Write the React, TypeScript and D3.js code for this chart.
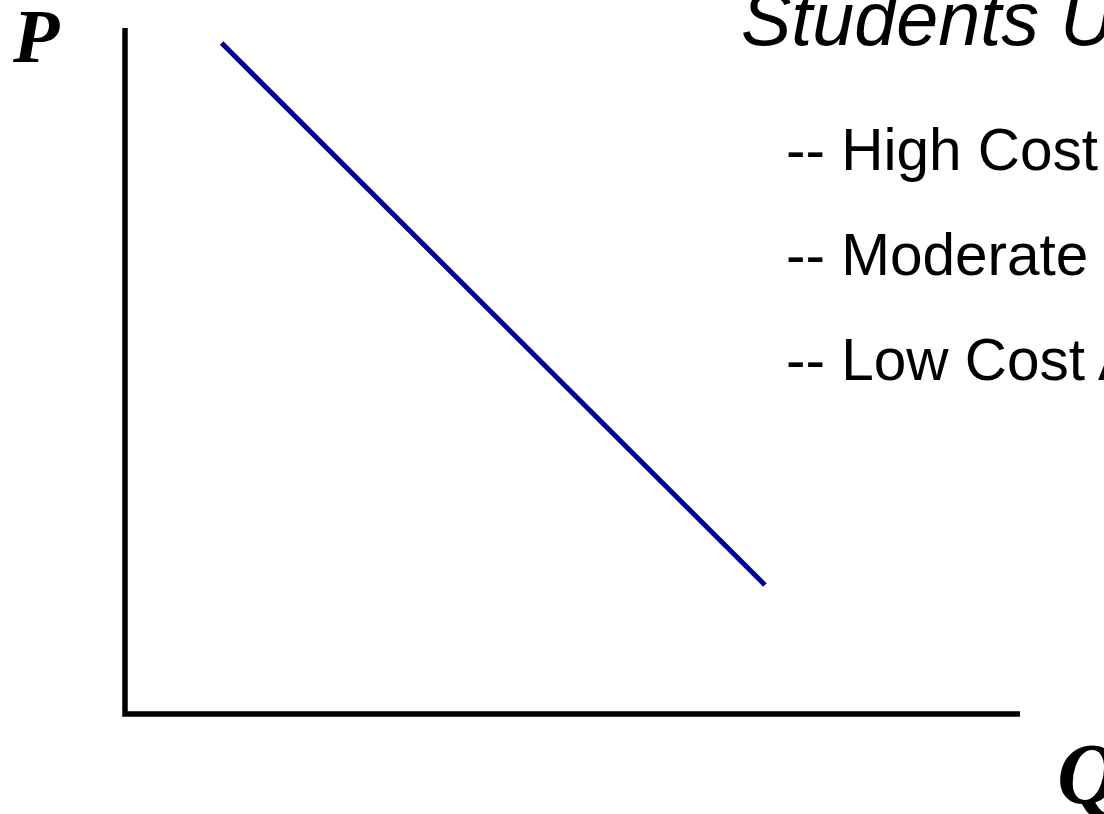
import React from "react";
import * as d3 from "d3";

const W = 1104;
const H = 814;

// Demand curve endpoints (quantity, price) in axis units
const quantities = [1.08, 7.15];
const prices = [9.78, 1.88];

const axisLabels = ["P", "Q"];
const titleText = "Students U";
const bulletItems = ["-- High Cost", "-- Moderate", "-- Low Cost A"];

export default function App() {
  const x = d3.scaleLinear().domain([0, 10]).range([125, 1020]);
  const y = d3.scaleLinear().domain([0, 10]).range([714, 28]);

  const axisPath = d3.line<[number, number]>()
    .x((d) => x(d[0]))
    .y((d) => y(d[1]))([
    [0, 10],
    [0, 0],
    [10, 0],
  ]);

  const demand = d3.line<number>()
    .x((_, i) => x(quantities[i]))
    .y((_, i) => y(prices[i]))(quantities);

  const sans = "'Liberation Sans', Arial, sans-serif";
  const serif = "'Liberation Serif', 'Times New Roman', serif";

  return (
    <svg
      width={W}
      height={H}
      viewBox={`0 0 ${W} ${H}`}
      style={{ position: "absolute", left: 0, top: 0, background: "#fff" }}
    >
      <rect x={0} y={0} width={W} height={H} fill="#fff" />
      <path d={axisPath || ""} fill="none" stroke="#000" strokeWidth={5.5} strokeLinejoin="miter" />
      <path d={demand || ""} fill="none" stroke="#000099" strokeWidth={5} />

      <text x={13} y={62} fontFamily={serif} fontWeight="bold" fontStyle="italic" fontSize={76} fill="#000">
        {axisLabels[0]}
      </text>
      <text x={1057} y={803} fontFamily={serif} fontWeight="bold" fontStyle="italic" fontSize={86} fill="#000">
        {axisLabels[1]}
      </text>

      <text x={741} y={45} fontFamily={sans} fontStyle="italic" fontSize={75.5} fill="#000">
        {titleText}
      </text>

      {bulletItems.map((t, i) => (
        <text key={t} x={786} y={170 + i * 105} fontFamily={sans} fontSize={58.5} fill="#000">
          {t}
        </text>
      ))}
    </svg>
  );
}
